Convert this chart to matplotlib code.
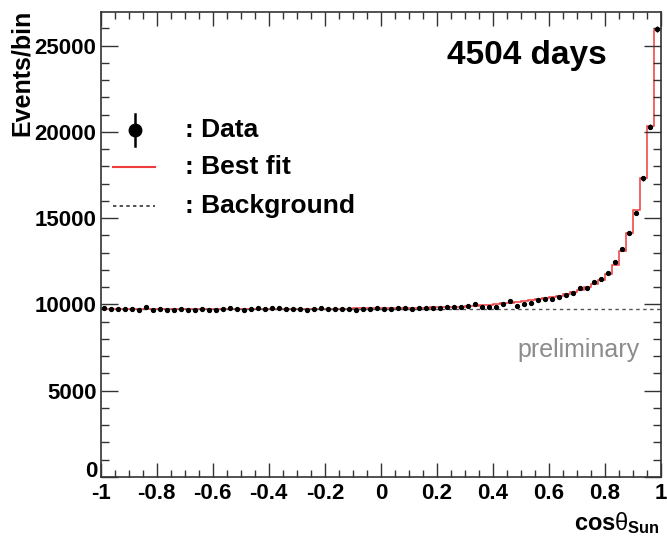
import numpy as np
import matplotlib
matplotlib.use("Agg")
import matplotlib.pyplot as plt
from matplotlib.ticker import MultipleLocator, FuncFormatter

plt.rcParams['font.family'] = ['Liberation Sans', 'DejaVu Sans']
plt.rcParams['mathtext.fontset'] = 'custom'
plt.rcParams['mathtext.rm'] = 'Liberation Sans'
plt.rcParams['mathtext.it'] = 'Liberation Sans'
plt.rcParams['mathtext.bf'] = 'Liberation Sans:bold'

# cos(theta_sun) histogram: 80 bins from -1 to 1
n_bins = 80
cos_min, cos_max = -1.0, 1.0

# observed events per bin
data = [
    9780, 9740, 9720, 9730, 9760, 9700, 9840, 9650, 9730, 9700,
    9690, 9720, 9700, 9690, 9750, 9700, 9690, 9760, 9800, 9720,
    9700, 9740, 9800, 9720, 9790, 9770, 9750, 9710, 9740, 9690,
    9740, 9790, 9730, 9720, 9750, 9760, 9700, 9740, 9730, 9790,
    9760, 9720, 9800, 9780, 9740, 9810, 9790, 9800, 9820, 9850,
    9830, 9870, 9900, 10010, 9870, 9860, 9830, 10050, 10180, 9930,
    10010, 10110, 10260, 10300, 10340, 10460, 10560, 10690, 10980, 10950,
    11310, 11500, 11810, 12470, 13230, 14160, 15280, 17310, 20300, 25950,
]

# best fit (background + solar signal) per bin
best_fit = [
    9725, 9725, 9726, 9726, 9727, 9727, 9728, 9728, 9729, 9729,
    9730, 9730, 9731, 9731, 9732, 9733, 9734, 9735, 9736, 9737,
    9738, 9739, 9740, 9741, 9742, 9744, 9745, 9747, 9749, 9751,
    9753, 9755, 9757, 9760, 9762, 9765, 9768, 9771, 9775, 9779,
    9783, 9788, 9793, 9799, 9805, 9812, 9820, 9829, 9839, 9850,
    9862, 9876, 9892, 9930, 9960, 9990, 10020, 10060, 10100, 10140,
    10185, 10235, 10290, 10350, 10420, 10500, 10590, 10700, 10830, 10990,
    11180, 11430, 11770, 12300, 13100, 14150, 15450, 17350, 20350, 25900,
]

background_level = 9720

edges = np.linspace(cos_min, cos_max, n_bins + 1)
centers = 0.5 * (edges[:-1] + edges[1:])
data = np.array(data, dtype=float)
best_fit = np.array(best_fit, dtype=float)

fig = plt.figure(figsize=(6.67, 5.38), dpi=100)
ax = fig.add_axes([0.151, 0.1134, 0.84, 0.8643])

ax.axhline(background_level, color='#555555', lw=1.0, ls=(0, (2.5, 2.5)))
ax.stairs(best_fit, edges, baseline=None, color='#f03c3c', lw=1.1)
ax.errorbar(centers, data, yerr=np.sqrt(data), fmt='o', ms=2.8,
            color='black', ecolor='black', elinewidth=1.0, capsize=0)

ax.set_xlim(cos_min, cos_max)
ax.set_ylim(0, 26950)

ax.xaxis.set_major_locator(MultipleLocator(0.2))
ax.xaxis.set_minor_locator(MultipleLocator(0.05))
ax.yaxis.set_major_locator(MultipleLocator(5000))
ax.yaxis.set_minor_locator(MultipleLocator(1000))
ax.set_xticks(np.arange(-1, 1.01, 0.2))
ax.set_xticklabels(['-1', '-0.8', '-0.6', '-0.4', '-0.2', '0',
                    '0.2', '0.4', '0.6', '0.8', '1'])
# the y "0" is placed by hand below, slightly raised
ax.yaxis.set_major_formatter(FuncFormatter(lambda v, p: '' if v == 0 else f'{v:.0f}'))

ax.tick_params(axis='both', which='both', direction='in',
               top=True, right=True, color='#333333', width=1.0)
ax.tick_params(axis='x', which='major', length=10, pad=4)
ax.tick_params(axis='x', which='minor', length=5)
ax.tick_params(axis='y', which='major', length=12, pad=3)
ax.tick_params(axis='y', which='minor', length=6)
for lab in ax.get_xticklabels() + ax.get_yticklabels():
    lab.set_fontsize(16)
    lab.set_fontweight('bold')
ax.yaxis.set_tick_params(labelsize=16)
for lab in ax.yaxis.get_majorticklabels():
    lab.set_fontweight('bold')
for sp in ax.spines.values():
    sp.set_color('#333333')
    sp.set_linewidth(1.2)

ax.annotate('0', xy=(0, 0), xycoords='axes fraction', xytext=(-3, 5),
            textcoords='offset pixels', ha='right', va='center',
            fontsize=16, fontweight='bold')

fig.text(22 / 667, 1 - 10 / 538, 'Events/bin', rotation=90,
         ha='center', va='top', fontsize=18, fontweight='bold')
fig.text(660 / 667, 1 - 530 / 538, r'cos$\theta_{\mathbf{Sun}}$',
         ha='right', va='baseline', fontsize=17, fontweight='bold')

# legend drawn by hand
tr = ax.transAxes
ax.plot([0.061], [0.746], marker='o', ms=9, color='black', transform=tr)
ax.plot([0.061, 0.061], [0.712, 0.78], color='black', lw=1.8, transform=tr)
ax.plot([0.022, 0.097], [0.667, 0.667], color='#f03c3c', lw=1.5, transform=tr)
ax.plot([0.022, 0.097], [0.583, 0.583], color='#333333', lw=1.2,
        ls=(0, (2, 2)), transform=tr)
for y, label in [(0.746, ': Data'), (0.667, ': Best fit'),
                 (0.583, ': Background')]:
    ax.text(0.150, y, label, transform=tr, ha='left', va='center',
            fontsize=19, fontweight='bold')

ax.text(0.76, 0.907, '4504 days', transform=tr, ha='center', va='center',
        fontsize=24, fontweight='bold')
ax.text(0.962, 0.273, 'preliminary', transform=tr, ha='right', va='center',
        fontsize=18, color='#8c8c8c')

fig.savefig('out.png', dpi=100)
